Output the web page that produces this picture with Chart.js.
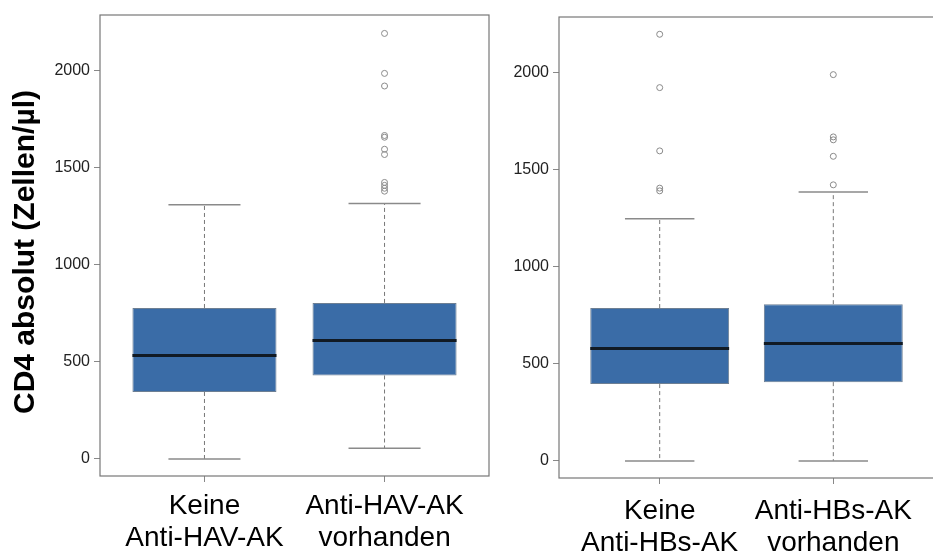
<!DOCTYPE html>
<html>
<head>
<meta charset="utf-8">
<script src="https://cdn.jsdelivr.net/npm/chart.js@4.4.0/dist/chart.umd.min.js"></script>
<style>
  html, body { margin: 0; padding: 0; background: #fff; overflow: hidden; }
  #wrap { position: relative; width: 933px; height: 556px; }
  #havBox { position: absolute; left: 0; top: 0; }
  #hbsBox { position: absolute; left: 495px; top: 0; }
</style>
</head>
<body>
<div id="wrap">
  <canvas id="havBox" width="495" height="556"></canvas>
  <canvas id="hbsBox" width="445" height="556"></canvas>
</div>
<script>
// CD4 counts by hepatitis A antibody status
const havLabels = [['Keine', 'Anti-HAV-AK'], ['Anti-HAV-AK', 'vorhanden']];
const havMin = [0, 55];
const havQ1 = [345, 430];
const havMedian = [533, 610];
const havQ3 = [778, 804];
const havMax = [1310, 1317];
const havOutliers = [[], [2193, 1987, 1922, 1667, 1658, 1596, 1569, 1425, 1410, 1395, 1380]];

// CD4 counts by hepatitis B surface antibody status
const hbsLabels = [['Keine', 'Anti-HBs-AK'], ['Anti-HBs-AK', 'vorhanden']];
const hbsMin = [0, 0];
const hbsQ1 = [396, 406];
const hbsMedian = [580, 605];
const hbsQ3 = [788, 808];
const hbsMax = [1248, 1386];
const hbsOutliers = [[2199, 1924, 1598, 1406, 1392], [1991, 1670, 1655, 1570, 1423]];

const yTicks = [0, 500, 1000, 1500, 2000];
const yTitle = 'CD4 absolut (Zellen/µl)';

const boxFill = '#3a6ca7';
const lineGrey = '#8a8a8a';

// whiskers, caps, medians and the frame around the plot
const boxPlotLines = {
  id: 'boxPlotLines',
  beforeDatasetsDraw(chart, args, opts) {
    const { ctx, scales: { x, y } } = chart;
    ctx.save();
    opts.q1.forEach((q1, i) => {
      const cx = x.getPixelForValue(i + 1);
      const capL = x.getPixelForValue(i + 1 - 0.2);
      const capR = x.getPixelForValue(i + 1 + 0.2);
      ctx.strokeStyle = '#777';
      ctx.lineWidth = 1;
      ctx.setLineDash([4, 3]);
      ctx.beginPath();
      ctx.moveTo(cx, y.getPixelForValue(opts.q3[i]));
      ctx.lineTo(cx, y.getPixelForValue(opts.max[i]));
      ctx.moveTo(cx, y.getPixelForValue(q1));
      ctx.lineTo(cx, y.getPixelForValue(opts.min[i]));
      ctx.stroke();
      ctx.setLineDash([]);
      ctx.lineWidth = 1.5;
      ctx.strokeStyle = lineGrey;
      ctx.beginPath();
      ctx.moveTo(capL, y.getPixelForValue(opts.max[i]));
      ctx.lineTo(capR, y.getPixelForValue(opts.max[i]));
      ctx.moveTo(capL, y.getPixelForValue(opts.min[i]));
      ctx.lineTo(capR, y.getPixelForValue(opts.min[i]));
      ctx.stroke();
    });
    ctx.restore();
  },
  afterDatasetsDraw(chart, args, opts) {
    const { ctx, chartArea, scales: { x, y } } = chart;
    ctx.save();
    ctx.strokeStyle = '#111a24';
    ctx.lineWidth = 3;
    opts.median.forEach((m, i) => {
      const py = y.getPixelForValue(m);
      ctx.beginPath();
      ctx.moveTo(x.getPixelForValue(i + 1 - 0.4), py);
      ctx.lineTo(x.getPixelForValue(i + 1 + 0.4), py);
      ctx.stroke();
    });
    ctx.strokeStyle = '#777';
    ctx.lineWidth = 1.2;
    ctx.strokeRect(chartArea.left, chartArea.top, chartArea.right - chartArea.left, chartArea.bottom - chartArea.top);
    ctx.restore();
  }
};

// rotated y title, drawn on the left panel only
const sideTitle = {
  id: 'sideTitle',
  afterDraw(chart, args, opts) {
    if (!opts.text) return;
    const { ctx } = chart;
    ctx.save();
    ctx.translate(opts.x, opts.y);
    ctx.rotate(-Math.PI / 2);
    ctx.font = 'bold 30px "Liberation Sans", Arial, sans-serif';
    ctx.fillStyle = '#000';
    ctx.textAlign = 'center';
    ctx.textBaseline = 'middle';
    ctx.fillText(opts.text, 0, 0);
    ctx.restore();
  }
};

function makeBoxChart(canvasId, labels, min, q1, median, q3, max, outliers, layout) {
  const boxes = labels.map((_, i) => ({ x: i + 1, y: [q1[i], q3[i]] }));
  const points = [];
  outliers.forEach((list, i) => list.forEach(v => points.push({ x: i + 1, y: v })));

  return new Chart(document.getElementById(canvasId), {
    type: 'bar',
    data: {
      datasets: [{
        type: 'bar',
        data: boxes,
        backgroundColor: boxFill,
        borderColor: '#6d7f93',
        borderWidth: 1,
        borderSkipped: false,
        barPercentage: 0.8,
        categoryPercentage: 1
      },
      {
        type: 'scatter',
        data: points,
        pointStyle: 'circle',
        pointRadius: 3,
        pointBorderWidth: 1,
        pointBorderColor: '#8a8a8a',
        pointBackgroundColor: 'rgba(0,0,0,0)'
      }]
    },
    options: {
      responsive: false,
      animation: false,
      events: [],
      layout: { padding: layout.padding },
      plugins: {
        legend: { display: false },
        tooltip: { enabled: false },
        boxPlotLines: { min, q1, median, q3, max },
        sideTitle: layout.title || {}
      },
      scales: {
        x: {
          type: 'linear',
          min: 0.42,
          max: 2.58,
          offset: false,
          afterBuildTicks: scale => { scale.ticks = labels.map((_, i) => ({ value: i + 1 })); },
          afterFit: scale => { scale.height = layout.xHeight; },
          border: { display: false },
          grid: { offset: false, drawOnChartArea: false, drawTicks: true, tickLength: 6, color: '#888' },
          ticks: {
            maxRotation: 0,
            autoSkip: false,
            padding: layout.labelPad,
            color: '#000',
            font: { family: '"Liberation Sans", Arial, sans-serif', size: 28, lineHeight: 1.14 },
            callback: value => labels[value - 1]
          }
        },
        y: {
          min: -88,
          max: 2288,
          afterBuildTicks: scale => { scale.ticks = yTicks.map(v => ({ value: v })); },
          afterFit: scale => { scale.width = layout.yWidth; },
          border: { display: false },
          grid: { drawOnChartArea: false, drawTicks: true, tickLength: 6, color: '#888' },
          ticks: {
            padding: 4,
            color: '#222',
            font: { family: '"Liberation Sans", Arial, sans-serif', size: 16 },
            callback: value => String(value)
          }
        }
      }
    },
    plugins: [boxPlotLines, sideTitle]
  });
}

makeBoxChart('havBox', havLabels, havMin, havQ1, havMedian, havQ3, havMax, havOutliers, {
  padding: { left: 0, top: 15, right: 6, bottom: 0 },
  yWidth: 100,
  xHeight: 80,
  labelPad: 8,
  title: { text: yTitle, x: 26, y: 252 }
});

makeBoxChart('hbsBox', hbsLabels, hbsMin, hbsQ1, hbsMedian, hbsQ3, hbsMax, hbsOutliers, {
  padding: { left: 0, top: 17, right: 6, bottom: 0 },
  yWidth: 64,
  xHeight: 78,
  labelPad: 11
});
</script>
</body>
</html>
